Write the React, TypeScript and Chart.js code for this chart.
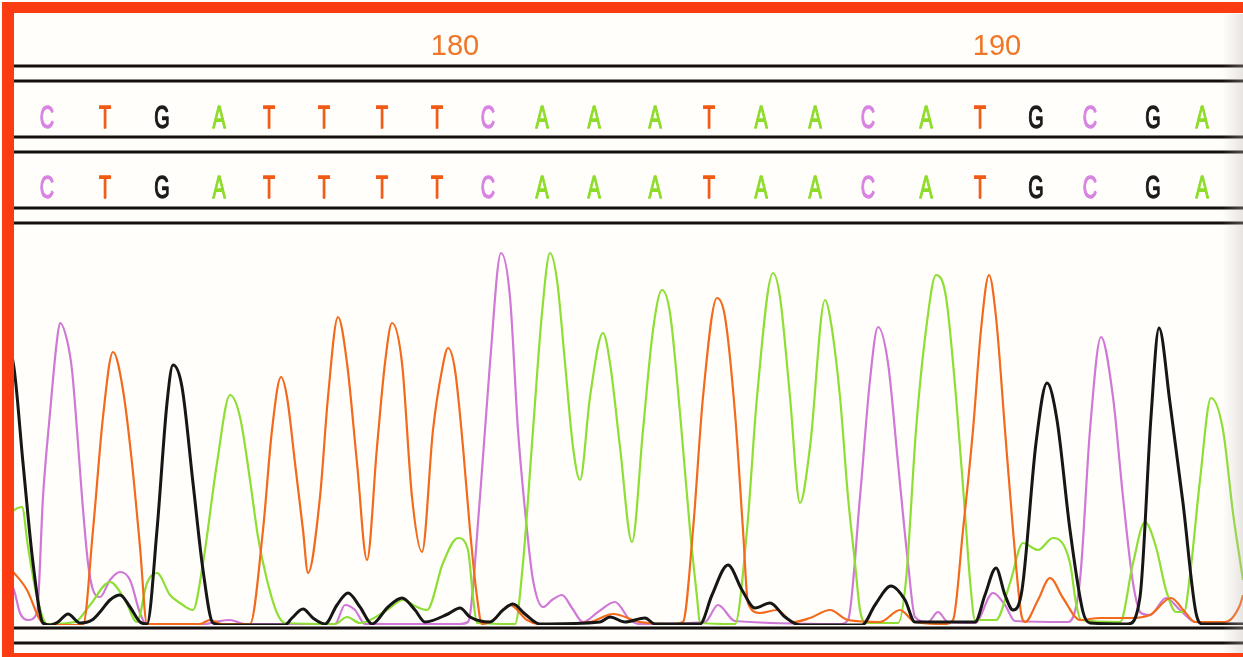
import React, { useEffect, useRef } from "react";
import { Chart, registerables } from "chart.js";

Chart.register(...registerables);

// ---- Base calls (two identical rows) ----
const BASE_CALLS = ["C", "T", "G", "A", "T", "T", "T", "T", "C", "A", "A", "A", "T", "A", "A", "C", "A", "T", "G", "C", "G", "A"];
const BASE_SCANS = [47, 105, 162, 219, 269, 324, 382, 437, 488, 542, 594, 655, 709, 761, 815, 868, 926, 980, 1036, 1090, 1153, 1202];

// ---- Ruler ----
const RULER_LABELS = ["180", "190"];
const RULER_SCANS = [455, 997];

// ---- Trace: G (black) ----
const G_SCAN = [0, 14, 23, 33, 43, 50, 58, 68, 80, 92, 100, 110, 120, 130, 140, 147, 157, 167, 173, 182, 193, 203, 213, 225, 285, 292, 303, 313, 325, 337, 348, 360, 372, 388, 402, 415, 425, 448, 460, 470, 490, 503, 513, 525, 540, 600, 610, 625, 645, 655, 700, 712, 728, 742, 755, 770, 785, 800, 862, 875, 891, 905, 915, 975, 985, 996, 1005, 1013, 1022, 1036, 1047, 1057, 1070, 1083, 1090, 1128, 1140, 1151, 1159, 1170, 1183, 1196, 1203, 1243];
const G_RFU = [300, 257, 162, 62, 2, 0, 3, 11, 2, 5, 13, 25, 30, 18, 3, 1, 95, 222, 260, 238, 142, 55, 2, 0, 0, 7, 16, 7, 1, 20, 32, 18, 1, 18, 27, 15, 3, 11, 17, 8, 3, 15, 21, 11, 1, 3, 8, 3, 7, 1, 1, 30, 60, 35, 17, 22, 8, 0, 0, 20, 39, 25, 3, 3, 30, 57, 30, 15, 35, 182, 242, 205, 95, 13, 2, 1, 28, 208, 297, 222, 122, 12, 1, 1];

// ---- Trace: C (violet) ----
const C_SCAN = [0, 14, 20, 28, 37, 43, 50, 57, 60, 67, 72, 77, 82, 88, 93, 100, 110, 120, 130, 140, 147, 200, 215, 230, 245, 335, 345, 355, 365, 460, 468, 480, 490, 501, 510, 518, 527, 533, 543, 552, 562, 572, 583, 598, 615, 630, 640, 705, 718, 735, 840, 848, 860, 870, 878, 888, 898, 908, 915, 928, 938, 948, 975, 993, 1005, 1015, 1068, 1080, 1090, 1101, 1113, 1123, 1133, 1141, 1150, 1166, 1180, 1195, 1243];
const C_RFU = [60, 35, 12, 5, 12, 128, 212, 285, 302, 285, 255, 195, 128, 62, 35, 28, 45, 53, 45, 12, 0, 0, 3, 5, 1, 1, 20, 15, 1, 1, 3, 128, 262, 372, 328, 195, 95, 45, 18, 25, 30, 17, 3, 13, 23, 5, 1, 3, 20, 4, 1, 5, 128, 245, 298, 262, 162, 62, 8, 3, 13, 3, 2, 32, 20, 4, 3, 45, 195, 288, 228, 128, 42, 12, 10, 27, 15, 3, 1];

// ---- Trace: T (orange) ----
const T_SCAN = [0, 14, 27, 40, 47, 83, 93, 103, 113, 123, 132, 140, 147, 200, 210, 222, 250, 263, 272, 281, 287, 295, 303, 308, 320, 328, 338, 347, 357, 367, 377, 385, 392, 402, 412, 422, 433, 442, 448, 455, 463, 470, 477, 482, 493, 510, 527, 540, 590, 613, 640, 675, 683, 693, 703, 717, 725, 735, 743, 748, 760, 777, 793, 810, 830, 848, 880, 900, 915, 945, 953, 963, 973, 981, 989, 996, 1005, 1013, 1021, 1025, 1038, 1050, 1063, 1080, 1100, 1130, 1150, 1171, 1185, 1195, 1225, 1240, 1243];
const T_RFU = [65, 52, 35, 5, 0, 0, 95, 208, 273, 235, 162, 78, 1, 1, 5, 1, 1, 95, 195, 248, 228, 162, 95, 52, 128, 228, 308, 262, 162, 65, 178, 262, 302, 262, 128, 73, 195, 255, 277, 255, 178, 95, 28, 1, 5, 20, 5, 1, 3, 11, 3, 1, 3, 95, 228, 327, 308, 212, 95, 22, 12, 15, 3, 7, 15, 5, 3, 15, 3, 1, 5, 95, 195, 295, 350, 308, 195, 95, 12, 3, 25, 47, 27, 5, 7, 7, 10, 27, 13, 3, 3, 20, 30];

// ---- Trace: A (green) ----
const A_SCAN = [0, 14, 22, 28, 37, 47, 75, 90, 110, 125, 137, 147, 157, 170, 180, 193, 203, 217, 230, 240, 250, 258, 267, 277, 285, 335, 347, 360, 387, 403, 417, 427, 443, 458, 468, 473, 477, 515, 523, 533, 542, 550, 557, 565, 573, 580, 590, 603, 610, 620, 632, 643, 653, 662, 670, 680, 690, 697, 700, 735, 747, 757, 773, 780, 790, 800, 810, 825, 830, 840, 848, 855, 860, 866, 898, 906, 916, 926, 936, 946, 956, 965, 970, 975, 996, 1010, 1023, 1038, 1053, 1070, 1076, 1081, 1120, 1133, 1145, 1156, 1166, 1176, 1184, 1190, 1200, 1211, 1223, 1233, 1243];
const A_RFU = [100, 115, 118, 78, 28, 1, 3, 20, 43, 25, 3, 42, 52, 30, 22, 15, 62, 162, 230, 208, 145, 88, 45, 12, 2, 1, 8, 2, 15, 25, 18, 15, 62, 87, 75, 28, 2, 1, 62, 195, 312, 372, 345, 262, 178, 145, 228, 292, 262, 178, 83, 195, 295, 335, 312, 212, 95, 28, 2, 1, 95, 228, 352, 328, 228, 122, 178, 325, 308, 228, 128, 62, 15, 2, 2, 45, 195, 295, 350, 328, 228, 112, 45, 5, 5, 42, 82, 75, 87, 62, 22, 5, 3, 62, 103, 78, 35, 13, 13, 50, 145, 227, 195, 112, 45];

const BASE_COLORS: Record<string, string> = {
  A: "#8ddc2a",
  C: "#d884e2",
  G: "#1b1b1b",
  T: "#f05a14",
};

const toPoints = (xs: number[], ys: number[]) => xs.map((x, i) => ({ x, y: ys[i] }));

const chromPlugin = {
  id: "chromDecor",
  beforeDraw(chart: any) {
    const { ctx, width, height } = chart;
    ctx.save();
    ctx.fillStyle = "#fffefb";
    ctx.fillRect(0, 0, width, height);
    ctx.restore();
  },
  beforeDatasetsDraw(chart: any) {
    const { ctx, width, chartArea } = chart;
    const xs = chart.scales.x;
    const left = chartArea.left;
    ctx.save();
    // separator double lines
    ctx.strokeStyle = "#140f0c";
    ctx.lineWidth = 3;
    [66, 81, 137, 152, 208, 223, 628, 643].forEach((y) => {
      ctx.beginPath();
      ctx.moveTo(left, y);
      ctx.lineTo(width, y);
      ctx.stroke();
    });
    // ruler labels
    ctx.fillStyle = "#f07628";
    ctx.textAlign = "center";
    ctx.textBaseline = "alphabetic";
    RULER_LABELS.forEach((lab, i) => {
      const px = xs.getPixelForValue(RULER_SCANS[i]);
      ctx.save();
      ctx.translate(px, 55);
      ctx.scale(0.97, 1);
      ctx.font = '30px "Liberation Sans", Arial, sans-serif';
      ctx.fillText(lab, 0, 0);
      ctx.restore();
    });
    // base call rows
    [128, 198].forEach((baseY) => {
      BASE_CALLS.forEach((b, i) => {
        const px = xs.getPixelForValue(BASE_SCANS[i]);
        ctx.save();
        ctx.translate(px, baseY);
        ctx.scale(0.62, 1);
        ctx.font = '32px "Liberation Sans", Arial, sans-serif';
        ctx.fillStyle = BASE_COLORS[b];
        ctx.strokeStyle = BASE_COLORS[b];
        ctx.lineWidth = 1.4;
        ctx.lineJoin = "round";
        ctx.fillText(b, 0, 0);
        ctx.strokeText(b, 0, 0);
        ctx.restore();
      });
    });
    ctx.restore();
  },
  afterDraw(chart: any) {
    const { ctx, width, height } = chart;
    ctx.save();
    // slight page shading at the right edge
    const g = ctx.createLinearGradient(1222, 0, width, 0);
    g.addColorStop(0, "rgba(200,190,190,0)");
    g.addColorStop(1, "rgba(190,180,180,0.35)");
    ctx.fillStyle = g;
    ctx.fillRect(1222, 14, width - 1222, height - 18);
    // red frame
    ctx.fillStyle = "#fb3c12";
    ctx.fillRect(2, 2, 12, height - 2);
    ctx.fillRect(2, 2, width - 2, 11);
    ctx.fillRect(2, height - 4, width - 2, 4);
    ctx.restore();
  },
};

export default function App() {
  const canvasRef = useRef<HTMLCanvasElement | null>(null);

  useEffect(() => {
    document.body.style.margin = "0";
    const canvas = canvasRef.current;
    if (!canvas) return;
    const trace = (label: string, xs: number[], ys: number[], color: string, w: number) => ({
      label,
      data: toPoints(xs, ys),
      borderColor: color,
      borderWidth: w,
      pointRadius: 0,
      fill: false,
      cubicInterpolationMode: "monotone" as const,
    });
    const chart = new Chart(canvas, {
      type: "line",
      data: {
        datasets: [
          trace("G", G_SCAN, G_RFU, "#161616", 3),
          trace("T", T_SCAN, T_RFU, "#f26a1c", 2.2),
          trace("A", A_SCAN, A_RFU, "#8ede34", 2.2),
          trace("C", C_SCAN, C_RFU, "#cf78d6", 2.2),
        ],
      },
      options: {
        animation: false,
        responsive: true,
        maintainAspectRatio: false,
        events: [],
        layout: { padding: { left: 14, right: 0, top: 225, bottom: 32 } },
        plugins: { legend: { display: false }, tooltip: { enabled: false } },
        scales: {
          x: { type: "linear", min: 14, max: 1243, display: false },
          y: { type: "linear", min: 0, max: 400, display: false },
        },
      },
      plugins: [chromPlugin],
    });
    return () => chart.destroy();
  }, []);

  return (
    <div style={{ position: "absolute", left: 0, top: 0, width: 1243, height: 657 }}>
      <canvas ref={canvasRef} />
    </div>
  );
}
